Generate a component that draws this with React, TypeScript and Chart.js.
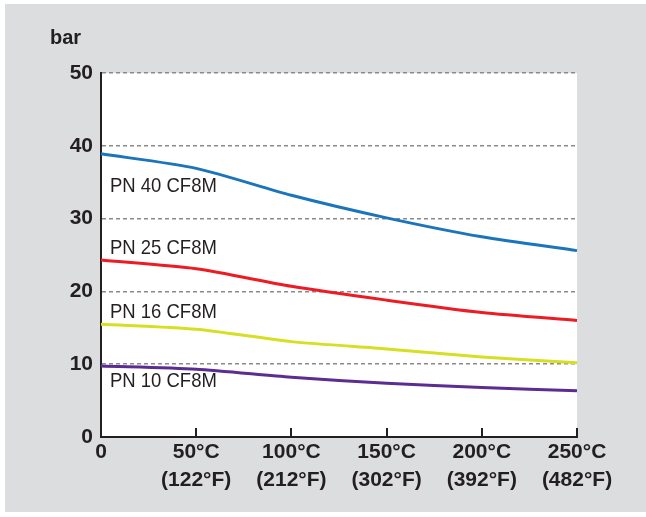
import React, { useEffect, useRef } from "react";
import { Chart, registerables } from "chart.js";

Chart.register(...registerables);

const categories: string[][] = [
  ["0"],
  ["50°C", "(122°F)"],
  ["100°C", "(212°F)"],
  ["150°C", "(302°F)"],
  ["200°C", "(392°F)"],
  ["250°C", "(482°F)"],
];

const pn40: number[] = [38.9, 36.9, 33.2, 30.1, 27.5, 25.6];
const pn25: number[] = [24.3, 23.1, 20.7, 18.8, 17.1, 16.0];
const pn16: number[] = [15.5, 14.8, 13.1, 12.1, 11.0, 10.2];
const pn10: number[] = [9.75, 9.3, 8.2, 7.4, 6.8, 6.35];

const seriesNames: string[] = ["PN 40 CF8M", "PN 25 CF8M", "PN 16 CF8M", "PN 10 CF8M"];
const seriesColors: string[] = ["#1b75bc", "#ed1c24", "#d7df23", "#5c2d91"];
const labelValues: number[] = [34.5, 26.0, 17.2, 7.7];

const unitLabel = "bar";

const INK = "#231f20";

const decorPlugin = {
  id: "decor",
  beforeDraw(chart: any) {
    const { ctx, width, height, chartArea } = chart;
    ctx.save();
    ctx.fillStyle = "#ffffff";
    ctx.fillRect(0, 0, width, height);
    ctx.fillStyle = "#dcdddf";
    ctx.fillRect(5, 4, width - 5, height - 9);
    ctx.fillStyle = "#ffffff";
    ctx.fillRect(chartArea.left, chartArea.top, chartArea.right - chartArea.left, chartArea.bottom - chartArea.top);
    ctx.restore();
  },
  afterDatasetsDraw(chart: any) {
    const { ctx, chartArea, scales } = chart;
    const y = scales.y;
    const x = scales.x;
    ctx.save();
    // inward tick marks on the x axis
    ctx.strokeStyle = INK;
    ctx.lineWidth = 2;
    x.ticks.forEach((_t: any, i: number) => {
      const px = Math.round(x.getPixelForTick(i));
      ctx.beginPath();
      ctx.moveTo(px, chartArea.bottom);
      ctx.lineTo(px, chartArea.bottom - 9);
      ctx.stroke();
    });
    ctx.fillStyle = INK;
    ctx.textBaseline = "middle";
    ctx.textAlign = "left";
    ctx.font = "21px 'Liberation Sans', Arial, sans-serif";
    seriesNames.forEach((name, i) => {
      const py = y.getPixelForValue(labelValues[i]);
      ctx.save();
      ctx.translate(chartArea.left + 9, py);
      ctx.scale(0.88, 1);
      ctx.fillText(name, 0, 0);
      ctx.restore();
    });
    ctx.font = "bold 20px 'Liberation Sans', Arial, sans-serif";
    ctx.fillText(unitLabel, 50, 38);
    ctx.restore();
  },
};

export default function App() {
  const ref = useRef<HTMLCanvasElement | null>(null);
  useEffect(() => {
    if (!ref.current) return;
    const datasets = [pn40, pn25, pn16, pn10].map((d, i) => ({
      label: seriesNames[i],
      data: d,
      borderColor: seriesColors[i],
      backgroundColor: seriesColors[i],
      borderWidth: 3,
      pointRadius: 0,
      tension: 0.25,
      fill: false,
    }));
    const chart = new Chart(ref.current, {
      type: "line",
      data: { labels: categories as any, datasets },
      options: {
        animation: false,
        responsive: false,
        devicePixelRatio: 1,
        layout: { padding: { left: 0, top: 73, right: 69, bottom: 0 } },
        plugins: { legend: { display: false }, tooltip: { enabled: false } },
        scales: {
          x: {
            type: "category",
            offset: false,
            grid: {
              display: false,
              drawOnChartArea: false,
              drawTicks: false,
            },
            border: { display: true, color: INK, width: 2 },
            ticks: {
              color: INK,
              padding: 1,
              maxRotation: 0,
              autoSkip: false,
              font: { family: "'Liberation Sans', Arial, sans-serif", size: 21, weight: "bold", lineHeight: 1.33 },
            },
            afterFit: (s: any) => {
              s.height = 80;
            },
          },
          y: {
            min: 0,
            max: 50,
            grid: {
              drawTicks: false,
              color: (c: any) => (c.tick && c.tick.value === 0 ? "rgba(0,0,0,0)" : "#8a8a8a"),
              lineWidth: 1.5,
            },
            border: { display: true, color: INK, width: 2, dash: [4, 3] },
            ticks: {
              stepSize: 10,
              color: INK,
              padding: 8,
              font: { family: "'Liberation Sans', Arial, sans-serif", size: 21, weight: "bold" },
            },
            afterFit: (s: any) => {
              s.width = 101;
            },
          },
        },
      },
      plugins: [decorPlugin],
    });
    return () => chart.destroy();
  }, []);
  return (
    <div style={{ position: "fixed", left: 0, top: 0, width: 646, height: 517 }}>
      <canvas ref={ref} width={646} height={517} style={{ width: 646, height: 517 }} />
    </div>
  );
}
